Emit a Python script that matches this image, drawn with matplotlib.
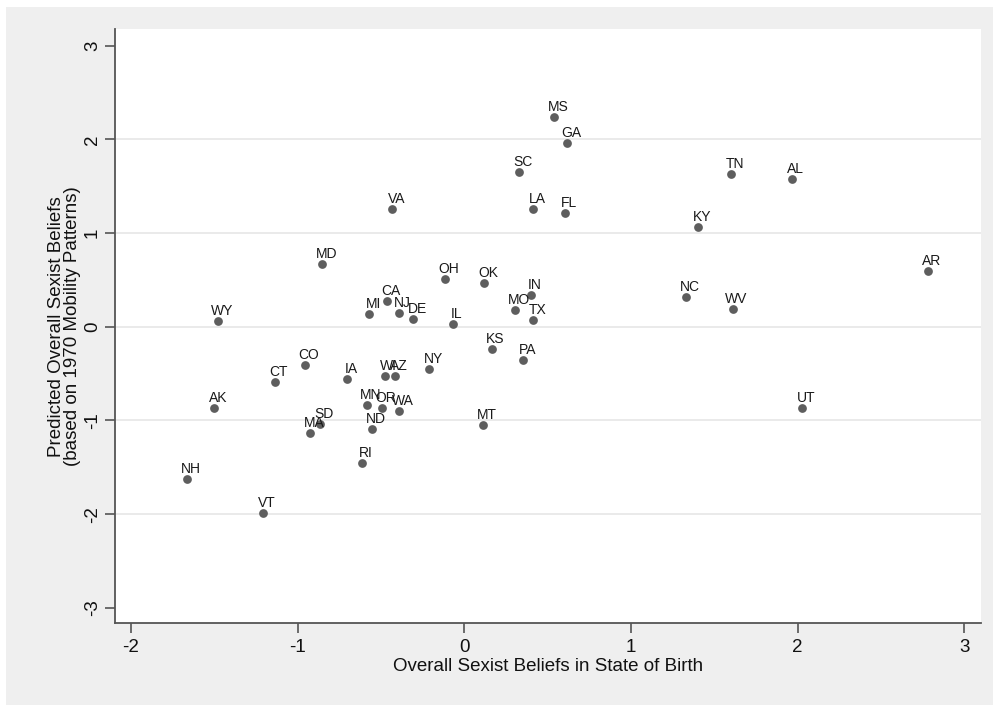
import matplotlib
matplotlib.use("Agg")
import matplotlib.pyplot as plt
from matplotlib.patches import Rectangle

plt.rcParams['font.family'] = ['Liberation Sans', 'DejaVu Sans']

# state labels and values
states = ["MS", "GA", "SC", "TN", "AL", "LA", "FL", "VA", "KY", "MD",
          "AR", "OH", "OK", "CA", "IN", "NC", "MO", "WV", "MI", "NJ",
          "DE", "TX", "IL", "WY", "KS", "PA", "CO", "NY", "CT", "IA",
          "WI", "AZ", "AK", "UT", "MN", "OR", "WA", "MT", "SD", "MA",
          "ND", "RI", "NH", "VT"]
birth = [0.538, 0.618, 0.328, 1.600, 1.964, 0.414, 0.604, -0.432, 1.402, -0.852,
         2.783, -0.118, 0.121, -0.464, 0.400, 1.332, 0.304, 1.610, -0.570, -0.394,
         -0.306, 0.414, -0.070, -1.476, 0.164, 0.354, -0.957, -0.210, -1.136, -0.702,
         -0.478, -0.416, -1.502, 2.028, -0.584, -0.492, -0.394, 0.114, -0.866, -0.924,
         -0.552, -0.615, -1.665, -1.209]
predicted = [2.241, 1.964, 1.651, 1.626, 1.573, 1.259, 1.217, 1.253, 1.067, 0.666,
             0.598, 0.506, 0.470, 0.274, 0.338, 0.317, 0.178, 0.192, 0.139, 0.143,
             0.085, 0.072, 0.029, 0.058, -0.241, -0.356, -0.409, -0.448, -0.587, -0.561,
             -0.529, -0.529, -0.871, -0.871, -0.839, -0.871, -0.896, -1.052, -1.042, -1.131,
             -1.089, -1.458, -1.625, -1.991]

xticks = [-2, -1, 0, 1, 2, 3]
yticks = [-3, -2, -1, 0, 1, 2, 3]
grid_y = [-2, -1, 0, 1, 2]

fig = plt.figure(figsize=(9.93, 7.05), dpi=100, facecolor='white')
# light gray graph region (Stata style)
fig.patches.append(Rectangle((6 / 993, 0), 1, 1 - 7 / 705, transform=fig.transFigure,
                             facecolor='#efefef', edgecolor='none', zorder=-10))

ax = fig.add_axes([115 / 993, 1 - 623.3 / 705, 866 / 993, 594.3 / 705])
ax.set_facecolor('white')

for g in grid_y:
    ax.axhline(g, color='#e4e4e4', linewidth=1.1, zorder=1)

ax.plot(birth, predicted, linestyle='none', marker='o', markersize=6.3,
        markerfacecolor='#5e5e5e', markeredgewidth=0, zorder=3)
for s, x, y in zip(states, birth, predicted):
    ax.annotate(s, (x, y), xytext=(2.9, 4.3), textcoords='offset points',
                ha='center', va='baseline', fontsize=10, color='#1a1a1a', zorder=4)

ax.set_xlim(-2.095, 3.101)
ax.set_ylim(-3.165, 3.177)
ax.set_xticks(xticks)
ax.set_yticks(yticks)
ax.set_xticklabels([str(t) for t in xticks])
ax.set_yticklabels([str(t) for t in yticks])

for side in ['top', 'right']:
    ax.spines[side].set_visible(False)
for side in ['left', 'bottom']:
    ax.spines[side].set_color('#555555')
    ax.spines[side].set_linewidth(1.3)

ax.tick_params(axis='both', length=7, width=1.2, color='#555555',
               labelsize=13.5, labelcolor='#111111')
ax.tick_params(axis='x', pad=4)
ax.tick_params(axis='y', pad=3, labelrotation=90)
for lab in ax.get_yticklabels():
    lab.set_va('center')

ax.set_xlabel('Overall Sexist Beliefs in State of Birth', fontsize=13.5,
              color='#111111', va='top')
ax.xaxis.set_label_coords(0.5, -0.058)
ax.set_ylabel('Predicted Overall Sexist Beliefs\n(based on 1970 Mobility Patterns)',
              fontsize=13.5, color='#111111', va='center', linespacing=0.95)
ax.yaxis.set_label_coords(-0.058, 0.5)

fig.savefig('out.png', dpi=100, facecolor=fig.get_facecolor())
